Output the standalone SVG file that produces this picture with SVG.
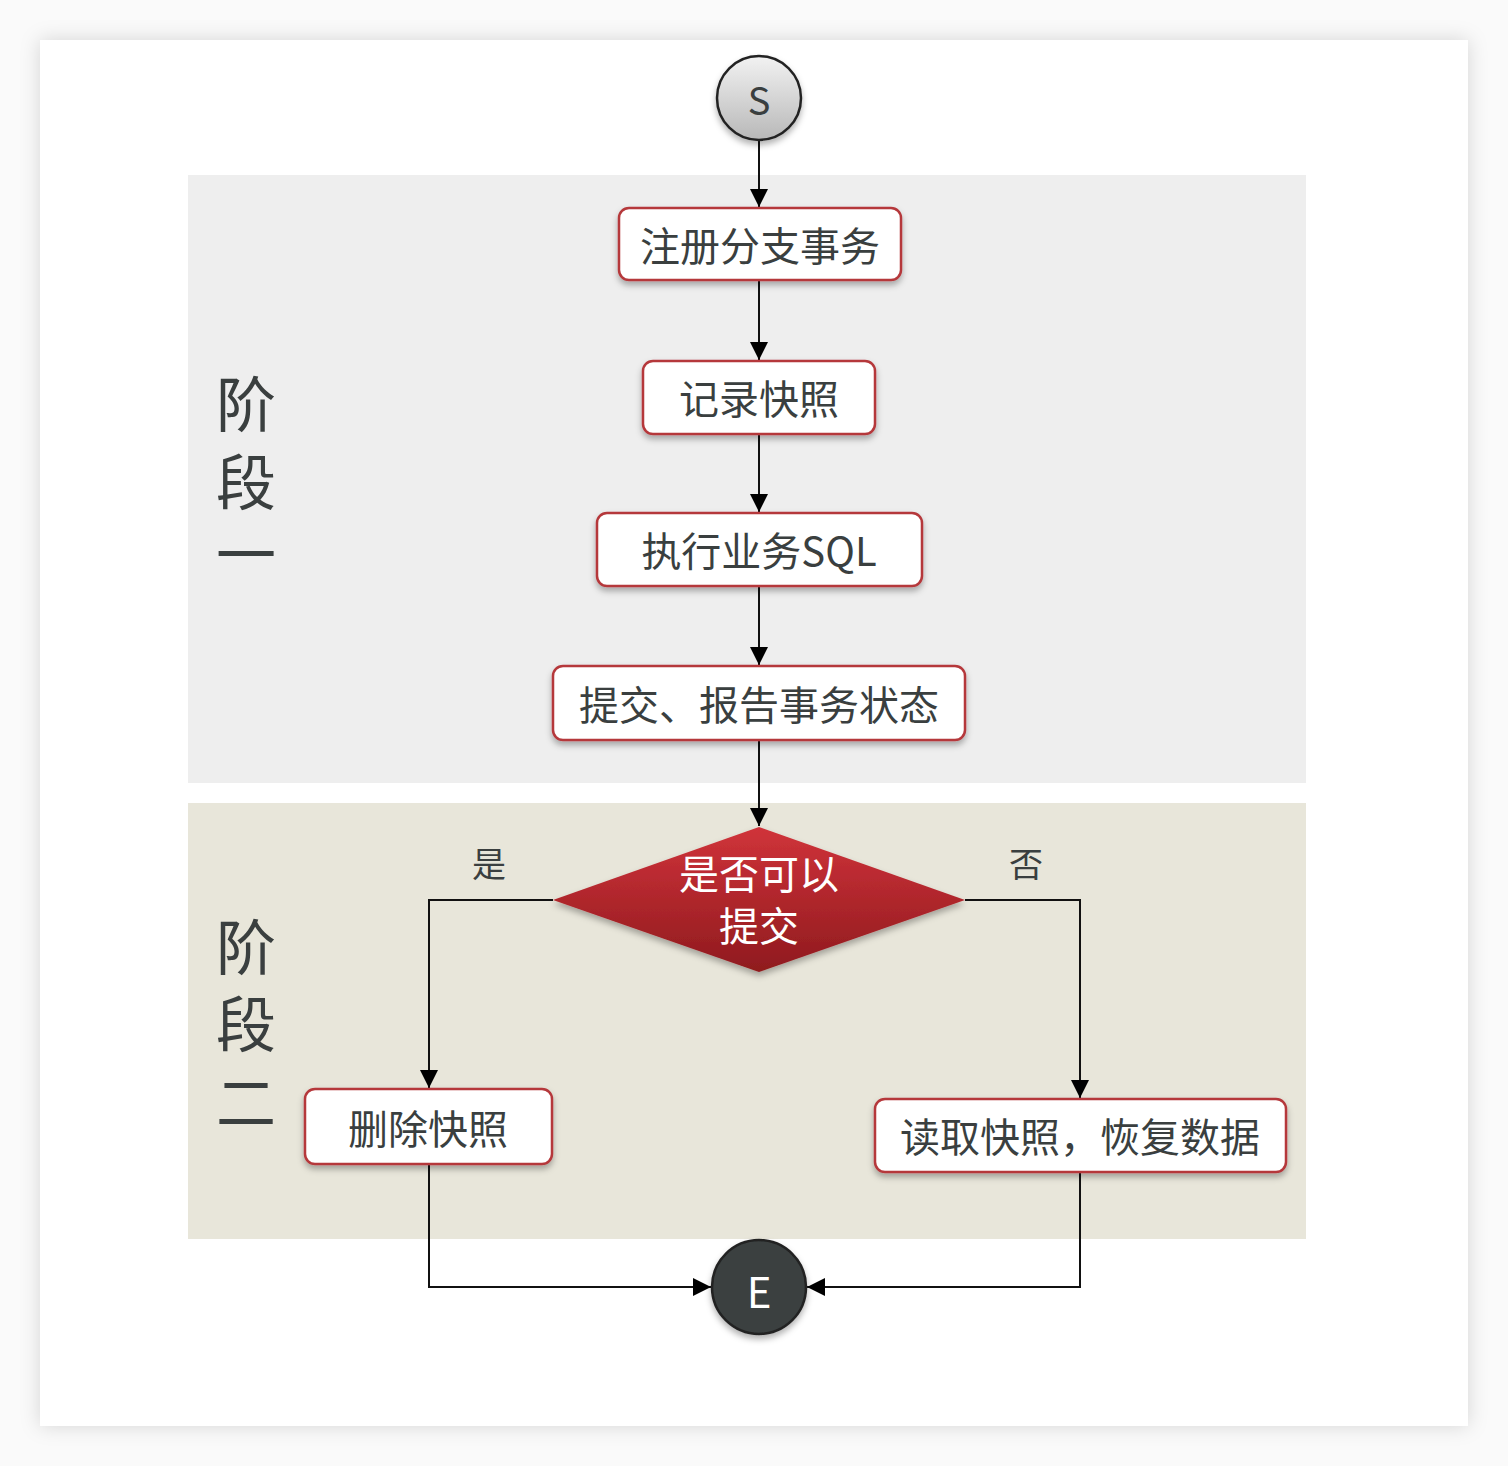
<svg xmlns="http://www.w3.org/2000/svg" width="1508" height="1466" viewBox="0 0 1508 1466">
<style>
.box{fill:#fff;stroke:#b5373b;stroke-width:2.5;filter:url(#sh)}
.t{font-family:"Noto Sans CJK SC","Noto Sans",sans-serif;fill:#3a3f3f;text-anchor:middle;dominant-baseline:central}
.c{fill:none;stroke:#111;stroke-width:2}
</style>
<defs>
<filter id="sh" x="-20%" y="-30%" width="140%" height="170%"><feDropShadow dx="0" dy="4" stdDeviation="3" flood-color="#000" flood-opacity="0.3"/></filter>
<filter id="card" x="-5%" y="-5%" width="110%" height="110%"><feDropShadow dx="0" dy="0" stdDeviation="10" flood-color="#000" flood-opacity="0.15"/></filter>
<linearGradient id="sg" x1="0" y1="0" x2="0" y2="1"><stop offset="0" stop-color="#f2f2f2"/><stop offset="1" stop-color="#b8b8b8"/></linearGradient>
<linearGradient id="dg" x1="0" y1="0" x2="0" y2="1"><stop offset="0" stop-color="#d0333a"/><stop offset="1" stop-color="#8f1a1e"/></linearGradient>
<marker id="a" viewBox="0 0 10 10" refX="10" refY="5" markerWidth="10" markerHeight="10" markerUnits="userSpaceOnUse" orient="auto"><path d="M0,0 L10,5 L0,10 z" fill="#000"/></marker>
<marker id="b" viewBox="0 0 10 10" refX="10" refY="5" markerWidth="18" markerHeight="18" markerUnits="userSpaceOnUse" orient="auto"><path d="M0,0 L10,5 L0,10 z" fill="#000"/></marker>
</defs>
<rect width="1508" height="1466" fill="#fafafa"/>
<rect x="40" y="40" width="1428" height="1386" fill="#fff" filter="url(#card)"/>
<rect x="188" y="175" width="1118" height="608" fill="#eeeeee"/>
<rect x="188" y="803" width="1118" height="436" fill="#e8e6da"/>
<g id="lane1"><text class="t" x="246" y="400" font-size="60">阶</text><text class="t" x="246" y="478" font-size="60">段</text><text class="t" x="246" y="550" font-size="60">一</text></g>
<g id="lane2"><text class="t" x="246" y="943" font-size="60">阶</text><text class="t" x="246" y="1020" font-size="60">段</text><text class="t" x="246" y="1098" font-size="60">二</text></g>
<g id="connectors">
<path class="c" d="M759,140 V207" marker-end="url(#b)"/>
<path class="c" d="M759,281 V360" marker-end="url(#b)"/>
<path class="c" d="M759,435 V512" marker-end="url(#b)"/>
<path class="c" d="M759,587 V665" marker-end="url(#b)"/>
<path class="c" d="M759,741 V826" marker-end="url(#b)"/>
<path class="c" d="M553,900 H429 V1088" marker-end="url(#b)"/>
<path class="c" d="M965,900 H1080 V1098" marker-end="url(#b)"/>
<path class="c" d="M429,1165 V1287 H711" marker-end="url(#b)"/>
<path class="c" d="M1080,1173 V1287 H807" marker-end="url(#b)"/>
<text class="t" x="489" y="862" font-size="34">是</text>
<text class="t" x="1026" y="862" font-size="34">否</text>
</g>
<g id="S"><circle cx="759" cy="98" r="42" fill="url(#sg)" stroke="#222" stroke-width="2.5" filter="url(#sh)"/><text class="t" x="759" y="98" font-size="38">S</text></g>
<g id="n1"><rect class="box" x="619" y="208" width="282" height="72" rx="10"/><text class="t" x="760" y="244" font-size="40">注册分支事务</text></g>
<g id="n2"><rect class="box" x="643" y="361" width="232" height="73" rx="10"/><text class="t" x="759" y="397" font-size="40">记录快照</text></g>
<g id="n3"><rect class="box" x="597" y="513" width="325" height="73" rx="10"/><text class="t" x="759" y="549" font-size="40">执行业务SQL</text></g>
<g id="n4"><rect class="box" x="553" y="666" width="412" height="74" rx="10"/><text class="t" x="759" y="703" font-size="40">提交、报告事务状态</text></g>
<g id="d"><polygon points="759,827 965,900 759,972 553,900" fill="url(#dg)" filter="url(#sh)"/><text class="t" x="759" y="872" font-size="40" fill="#fff" style="fill:#fff">是否可以</text><text class="t" x="759" y="924" font-size="40" style="fill:#fff">提交</text></g>
<g id="n5"><rect class="box" x="305" y="1089" width="247" height="75" rx="10"/><text class="t" x="428" y="1127" font-size="40">删除快照</text></g>
<g id="n6"><rect class="box" x="875" y="1099" width="411" height="73" rx="10"/><text class="t" x="1080" y="1135" font-size="40">读取快照，恢复数据</text></g>
<g id="E"><circle cx="759" cy="1287" r="47" fill="#3a3f3f" stroke="#222" stroke-width="2.5" filter="url(#sh)"/><text class="t" x="759" y="1289" font-size="42" style="fill:#fff">E</text></g>
</svg>
